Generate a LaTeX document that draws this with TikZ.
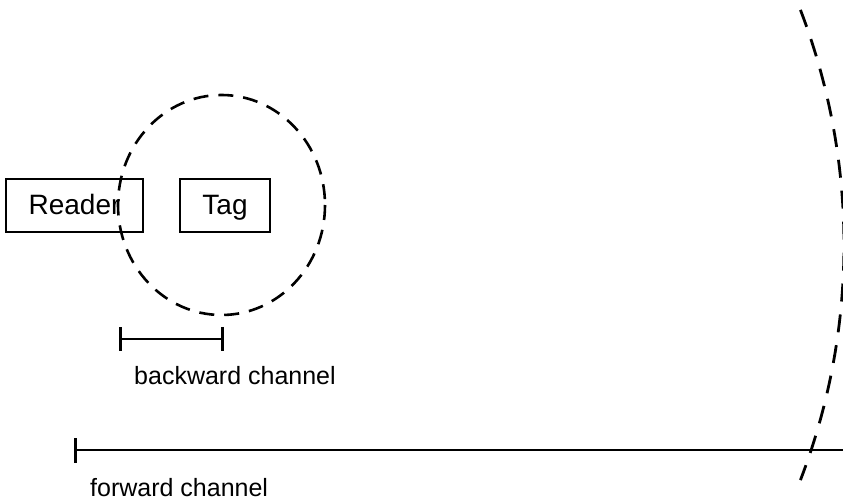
\documentclass[tikz,border=0pt]{standalone}
\usepackage{fontspec}
\setmainfont{Liberation Sans}
\usetikzlibrary{arrows.meta}
\begin{document}
\begin{tikzpicture}[x=1pt,y=-1pt,
  boxnode/.style={draw,line width=2.4pt,inner sep=0pt,minimum height=53pt,text height=22pt,text depth=4pt,font=\fontsize{28}{32}\selectfont},
  lbl/.style={anchor=west,inner sep=0pt,font=\fontsize{25}{30}\selectfont},
  zone/.style={line width=2.6pt,dash pattern=on 15pt off 10pt},
  bigzone/.style={line width=2.8pt,dash pattern=on 18pt off 13pt},
  bar/.style={line width=2.6pt,{Bar[width=24pt]}-{Bar[width=24pt]}}]
\useasboundingbox (0,0) rectangle (843,502);
\node[boxnode,minimum width=137pt] (reader) at (74.5,205.5) {Reader};
\node[boxnode,minimum width=90pt] (tag) at (225,205.5) {Tag};
\draw[zone] (221.5,205) ellipse[x radius=103.5, y radius=110];
\draw[bigzone] (188,245) ++(-21:656) arc[start angle=-21, end angle=21, radius=656];
\coordinate (b1) at (119,339);
\coordinate (b2) at (224,339);
\draw[bar] (b1) -- (b2);
\node[lbl] (blabel) at (134,376) {backward channel};
\coordinate (f1) at (74,450);
\coordinate (f2) at (843,450);
\draw[line width=2.6pt,{Bar[width=25pt]}-] (f1) -- (f2);
\node[lbl] (flabel) at (90,488) {forward channel};
\end{tikzpicture}
\end{document}
